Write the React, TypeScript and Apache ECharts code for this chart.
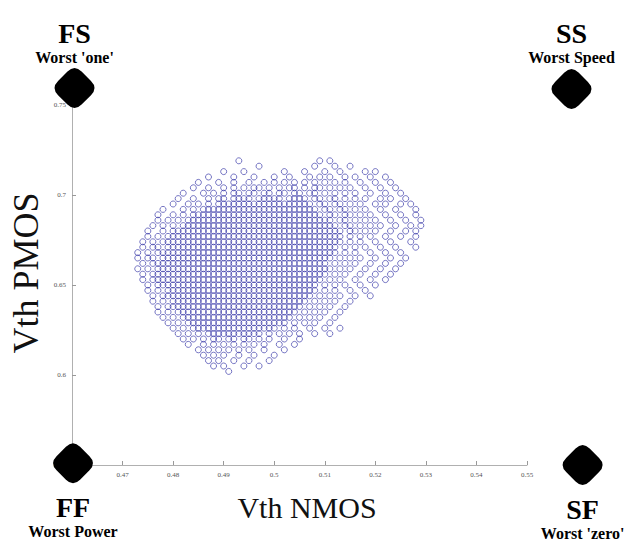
import React, { useEffect, useRef } from "react";
import * as echarts from "echarts";

// Vth PMOS levels (mV) of each row of Monte-Carlo samples
const pmosLevels = [
  719, 716, 713, 710, 707, 704, 701, 698, 695, 692, 689, 686, 683, 680, 677, 674, 671, 668, 665, 662,
  659, 656, 653, 650, 647, 644, 641, 638, 635, 632, 629, 626, 623, 620, 617, 614, 611, 608, 605, 602,
];

// Vth NMOS samples (mV) found on each PMOS row
const nmosByLevel = [
  [493, 509, 511],
  [497, 508, 512, 515],
  [490, 494, 502, 506, 510, 513, 518, 520],
  [487, 492, 496, 500, 503, 507, 509, 511, 514, 516, 519, 522],
  [485, 489, 492, 495, 498, 500, 502, 504, 506, 508, 510, 512, 514, 517, 520, 523],
  [484, 487, 490, 492, 494, 496, 497, 499, 501, 503, 504, 506, 508, 509, 511, 513, 515, 518, 521, 524],
  [482, 486, 488, 490, 492, 493, 495, 496, 498, 499, 501, 502, 504, 505, 507, 508, 510, 512, 514, 516, 519, 522, 525],
  [481, 484, 487, 489, 490, 492, 493, 494, 495, 497, 498, 499, 500, 501, 503, 504, 505, 506, 508, 509, 511, 512, 514, 516, 518, 521, 523, 526],
  [480, 483, 485, 487, 489, 490, 491, 492, 493, 494, 495, 496, 497, 498, 499, 500, 501, 502, 503, 504, 505, 506, 507, 509, 510, 512, 513, 515, 517, 520, 522, 525, 527],
  [478, 482, 484, 486, 487, 488, 489, 490, 491, 492, 493, 494, 495, 496, 497, 498, 499, 500, 501, 502, 503, 504, 505, 506, 507, 508, 510, 511, 513, 514, 516, 518, 521, 524, 528],
  [477, 480, 482, 484, 485, 486, 487, 488, 489, 490, 491, 492, 493, 494, 495, 496, 497, 498, 499, 500, 501, 502, 503, 504, 505, 506, 507, 508, 509, 511, 512, 514, 515, 517, 519, 522, 525, 528],
  [477, 479, 481, 483, 484, 485, 486, 487, 488, 489, 490, 491, 492, 493, 494, 495, 496, 497, 498, 499, 500, 501, 502, 503, 504, 505, 506, 507, 508, 509, 510, 511, 513, 514, 516, 518, 520, 523, 526, 529],
  [476, 478, 480, 482, 483, 484, 485, 486, 487, 488, 489, 490, 491, 492, 493, 494, 495, 496, 497, 498, 499, 500, 501, 502, 503, 504, 505, 506, 507, 508, 509, 510, 511, 512, 514, 515, 517, 519, 521, 524, 527, 529],
  [475, 478, 480, 481, 482, 483, 484, 485, 486, 487, 488, 489, 490, 491, 492, 493, 494, 495, 496, 497, 498, 499, 500, 501, 502, 503, 504, 505, 506, 507, 508, 509, 510, 511, 512, 513, 515, 516, 518, 520, 523, 526, 528],
  [475, 477, 479, 480, 481, 482, 483, 484, 485, 486, 487, 488, 489, 490, 491, 492, 493, 494, 495, 496, 497, 498, 499, 500, 501, 502, 503, 504, 505, 506, 507, 508, 509, 510, 511, 512, 513, 515, 517, 519, 522, 525, 528],
  [474, 476, 478, 479, 480, 481, 482, 483, 484, 485, 486, 487, 488, 489, 490, 491, 492, 493, 494, 495, 496, 497, 498, 499, 500, 501, 502, 503, 504, 505, 506, 507, 508, 509, 510, 511, 512, 513, 515, 517, 520, 523, 527],
  [474, 476, 477, 479, 480, 481, 482, 483, 484, 485, 486, 487, 488, 489, 490, 491, 492, 493, 494, 495, 496, 497, 498, 499, 500, 501, 502, 503, 504, 505, 506, 507, 508, 509, 510, 511, 512, 514, 516, 518, 521, 524, 528],
  [473, 475, 477, 478, 479, 480, 481, 482, 483, 484, 485, 486, 487, 488, 489, 490, 491, 492, 493, 494, 495, 496, 497, 498, 499, 500, 501, 502, 503, 504, 505, 506, 507, 508, 509, 510, 511, 512, 514, 516, 519, 522, 525],
  [473, 475, 476, 478, 479, 480, 481, 482, 483, 484, 485, 486, 487, 488, 489, 490, 491, 492, 493, 494, 495, 496, 497, 498, 499, 500, 501, 502, 503, 504, 505, 506, 507, 508, 509, 510, 511, 513, 515, 517, 520, 523, 526],
  [474, 476, 477, 478, 479, 480, 481, 482, 483, 484, 485, 486, 487, 488, 489, 490, 491, 492, 493, 494, 495, 496, 497, 498, 499, 500, 501, 502, 503, 504, 505, 506, 507, 508, 509, 510, 512, 514, 516, 519, 522, 525],
  [473, 475, 477, 478, 479, 480, 481, 482, 483, 484, 485, 486, 487, 488, 489, 490, 491, 492, 493, 494, 495, 496, 497, 498, 499, 500, 501, 502, 503, 504, 505, 506, 507, 508, 509, 510, 511, 513, 515, 518, 521, 524],
  [474, 476, 477, 478, 479, 480, 481, 482, 483, 484, 485, 486, 487, 488, 489, 490, 491, 492, 493, 494, 495, 496, 497, 498, 499, 500, 501, 502, 503, 504, 505, 506, 507, 508, 509, 510, 512, 514, 517, 520, 523],
  [474, 476, 477, 478, 479, 480, 481, 482, 483, 484, 485, 486, 487, 488, 489, 490, 491, 492, 493, 494, 495, 496, 497, 498, 499, 500, 501, 502, 503, 504, 505, 506, 507, 508, 509, 511, 513, 516, 519, 522],
  [475, 477, 478, 479, 480, 481, 482, 483, 484, 485, 486, 487, 488, 489, 490, 491, 492, 493, 494, 495, 496, 497, 498, 499, 500, 501, 502, 503, 504, 505, 506, 507, 508, 510, 512, 514, 517, 520],
  [475, 477, 479, 480, 481, 482, 483, 484, 485, 486, 487, 488, 489, 490, 491, 492, 493, 494, 495, 496, 497, 498, 499, 500, 501, 502, 503, 504, 505, 506, 507, 508, 510, 512, 515, 518],
  [476, 478, 479, 480, 481, 482, 483, 484, 485, 486, 487, 488, 489, 490, 491, 492, 493, 494, 495, 496, 497, 498, 499, 500, 501, 502, 503, 504, 505, 506, 507, 509, 511, 513, 516, 519],
  [476, 478, 480, 481, 482, 483, 484, 485, 486, 487, 488, 489, 490, 491, 492, 493, 494, 495, 496, 497, 498, 499, 500, 501, 502, 503, 504, 505, 506, 508, 510, 512, 515],
  [477, 479, 480, 481, 482, 483, 484, 485, 486, 487, 488, 489, 490, 491, 492, 493, 494, 495, 496, 497, 498, 499, 500, 501, 502, 503, 504, 505, 507, 509, 511, 514],
  [477, 479, 481, 482, 483, 484, 485, 486, 487, 488, 489, 490, 491, 492, 493, 494, 495, 496, 497, 498, 499, 500, 501, 502, 503, 504, 506, 508, 510, 513],
  [478, 480, 482, 483, 484, 485, 486, 487, 488, 489, 490, 491, 492, 493, 494, 495, 496, 497, 498, 499, 500, 501, 502, 503, 505, 507, 509, 512],
  [479, 481, 483, 484, 485, 486, 487, 488, 489, 490, 491, 492, 493, 494, 495, 496, 497, 498, 499, 500, 501, 502, 504, 506, 508, 511],
  [480, 482, 484, 485, 486, 487, 488, 489, 490, 491, 492, 493, 494, 495, 496, 497, 498, 499, 500, 502, 504, 507, 510, 513],
  [481, 483, 485, 487, 488, 489, 490, 491, 492, 493, 494, 495, 496, 497, 499, 501, 503, 505, 508, 511],
  [482, 484, 486, 488, 489, 491, 492, 494, 495, 497, 499, 502, 505],
  [483, 486, 488, 490, 492, 494, 496, 498, 501, 504],
  [485, 487, 489, 491, 493, 495, 498, 502],
  [486, 488, 490, 493, 496, 500],
  [487, 489, 492, 495, 499],
  [488, 490, 494, 497],
  [491],
];

// Process corners (V)
const cornerNames = ["FS", "SS", "FF", "SF"];
const cornerNotes = ["Worst 'one'", "Worst Speed", "Worst Power", "Worst 'zero'"];
const cornerNmos = [0.4605, 0.5588, 0.4602, 0.561];
const cornerPmos = [0.7594, 0.7589, 0.551, 0.55];

const SERIF = "'Liberation Serif', 'DejaVu Serif', serif";
const DIAMOND =
  "path://M35,15 Q50,0 65,15 L85,35 Q100,50 85,65 L65,85 Q50,100 35,85 L15,65 Q0,50 15,35 Z";

export default function App() {
  const ref = useRef<HTMLDivElement>(null);

  useEffect(() => {
    if (!ref.current) return;
    const chart = echarts.init(ref.current, null, { renderer: "svg" });

    const samples = pmosLevels.flatMap((p, i) =>
      nmosByLevel[i].map((n) => [n / 1000, p / 1000])
    );

    const corners = cornerNames.map((name, i) => ({
      value: [cornerNmos[i], cornerPmos[i]],
      label: {
        position: cornerPmos[i] > 0.7 ? "top" : "bottom",
        distance: cornerPmos[i] > 0.7 ? 2 : 9,
        formatter: `{a|${name}}\n{b|${cornerNotes[i]}}`,
      },
    }));

    chart.setOption({
      animation: false,
      backgroundColor: "#ffffff",
      grid: { left: 72, top: 105, width: 455, height: 360, containLabel: false },
      xAxis: {
        type: "value",
        min: 0.46,
        max: 0.55,
        interval: 0.01,
        splitLine: { show: false },
        axisLine: { show: true, lineStyle: { color: "#b0b0b0", width: 1 } },
        axisTick: { show: true, inside: true, length: 4, lineStyle: { color: "#999" } },
        axisLabel: { fontSize: 7, color: "#555", margin: 6, fontFamily: SERIF },
      },
      yAxis: {
        type: "value",
        min: 0.55,
        max: 0.75,
        interval: 0.05,
        splitLine: { show: false },
        axisLine: { show: true, lineStyle: { color: "#b0b0b0", width: 1 } },
        axisTick: { show: true, inside: true, length: 4, lineStyle: { color: "#999" } },
        axisLabel: { fontSize: 7, color: "#555", margin: 6, fontFamily: SERIF },
      },
      series: [
        {
          type: "scatter",
          data: samples,
          symbol: "circle",
          symbolSize: 6,
          itemStyle: {
            color: "rgba(0,0,0,0)",
            borderColor: "rgba(50,50,165,0.75)",
            borderWidth: 0.9,
            opacity: 1,
          },
          z: 2,
        },
        {
          type: "scatter",
          data: corners,
          symbol: DIAMOND,
          symbolSize: 40,
          clip: false,
          itemStyle: { color: "#000", opacity: 1 },
          z: 10,
          label: {
            show: true,
            color: "#000",
            opacity: 1,
            fontFamily: SERIF,
            rich: {
              a: { fontSize: 28, fontWeight: "bold", fontFamily: SERIF, lineHeight: 30, color: "#000" },
              b: { fontSize: 16, fontWeight: "bold", fontFamily: SERIF, lineHeight: 18, color: "#000" },
            },
          },
        },
      ],
      graphic: [
        {
          type: "text",
          x: 307,
          y: 507,
          style: {
            text: "Vth NMOS",
            font: `30px ${SERIF}`,
            fill: "#111",
            align: "center",
            verticalAlign: "middle",
          },
        },
        {
          type: "text",
          x: 26,
          y: 273,
          rotation: Math.PI / 2,
          style: {
            text: "Vth PMOS",
            font: `36px ${SERIF}`,
            fill: "#111",
            align: "center",
            verticalAlign: "middle",
          },
        },
      ],
    });

    return () => chart.dispose();
  }, []);

  return (
    <div
      ref={ref}
      style={{ position: "absolute", left: 0, top: 0, width: 627, height: 540 }}
    />
  );
}
